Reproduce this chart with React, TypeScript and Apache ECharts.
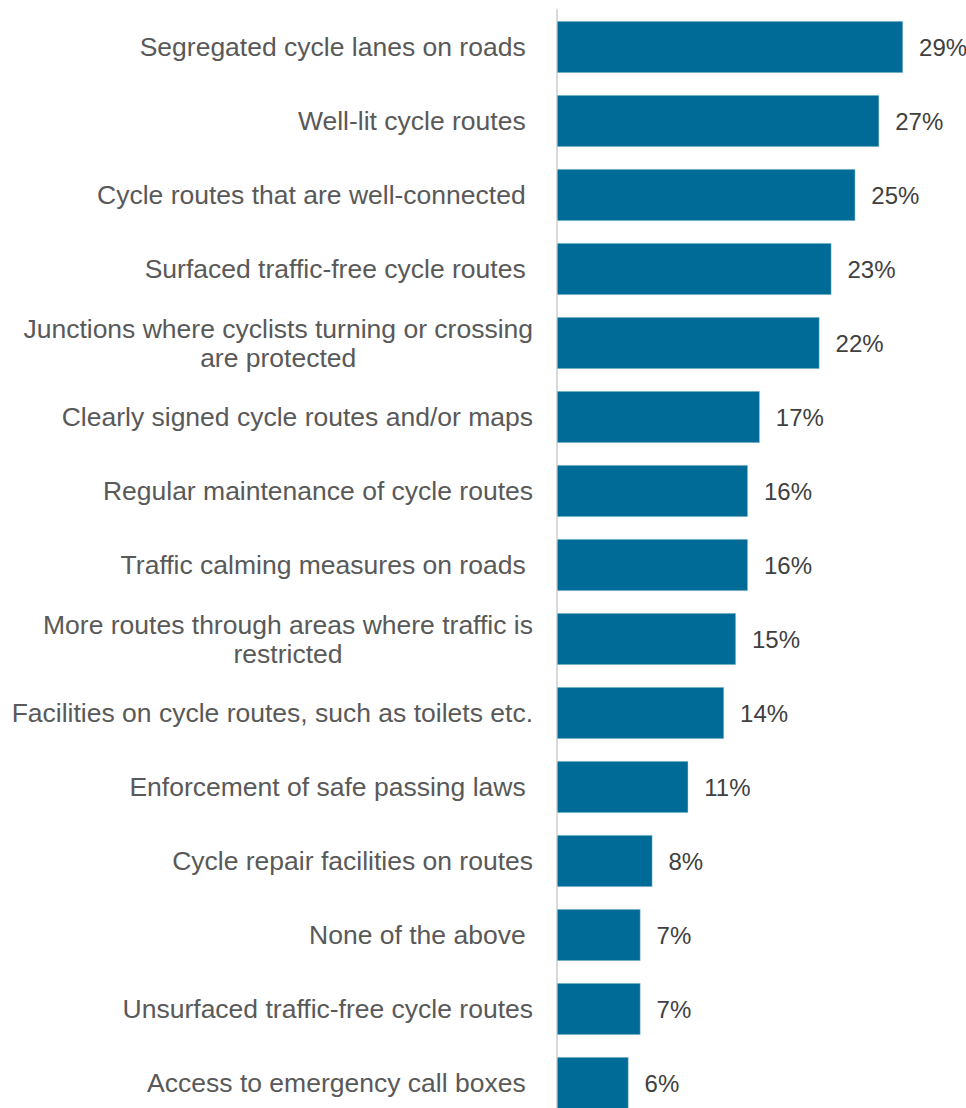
import React, { useEffect, useRef } from "react";
import * as echarts from "echarts";

const categories: string[] = [
  "Segregated cycle lanes on roads ",
  "Well-lit cycle routes ",
  "Cycle routes that are well-connected ",
  "Surfaced traffic-free cycle routes ",
  "Junctions where cyclists turning or crossing\nare protected",
  "Clearly signed cycle routes and/or maps",
  "Regular maintenance of cycle routes",
  "Traffic calming measures on roads ",
  "More routes through areas where traffic is\nrestricted",
  "Facilities on cycle routes, such as toilets etc.",
  "Enforcement of safe passing laws ",
  "Cycle repair facilities on routes",
  "None of the above ",
  "Unsurfaced traffic-free cycle routes",
  "Access to emergency call boxes ",
];

const values: number[] = [29, 27, 25, 23, 22, 17, 16, 16, 15, 14, 11, 8, 7, 7, 6];

const FONT = "'Liberation Sans', Arial, sans-serif";

export default function App() {
  const ref = useRef<HTMLDivElement>(null);
  useEffect(() => {
    if (!ref.current) return;
    const chart = echarts.init(ref.current, null, { renderer: "svg" });
    chart.setOption({
      animation: false,
      backgroundColor: "#ffffff",
      grid: { left: 557, top: 10, width: 358, height: 1110, containLabel: false },
      xAxis: {
        type: "value",
        min: 0,
        max: 30,
        show: false,
      },
      yAxis: {
        type: "category",
        inverse: true,
        data: categories,
        axisLine: { show: true, lineStyle: { color: "#d9d9d9", width: 2 } },
        axisTick: { show: false },
        splitLine: { show: false },
        axisLabel: {
          margin: 24,
          fontSize: 26.5,
          fontFamily: FONT,
          color: "#595959",
          formatter: (v: string) =>
            v
              .split("\n")
              .map((l) => `{c|${l}}`)
              .join("\n"),
          rich: {
            c: {
              fontSize: 26.5,
              fontFamily: FONT,
              color: "#595959",
              align: "center",
              lineHeight: 29,
            },
          },
        },
      },
      series: [
        {
          type: "bar",
          data: values,
          barWidth: 52,
          itemStyle: { color: "#006b96", borderColor: "#cfe3ec", borderWidth: 0.5 },
          label: {
            show: true,
            position: "right",
            distance: 16,
            formatter: "{c}%",
            fontSize: 24,
            fontFamily: FONT,
            color: "#404040",
          },
        },
      ],
    });
    return () => chart.dispose();
  }, []);
  return (
    <div style={{ position: "fixed", left: 0, top: 0, width: 966, height: 1108, overflow: "hidden", background: "#fff" }}>
      <div ref={ref} style={{ width: 966, height: 1130 }} />
    </div>
  );
}
